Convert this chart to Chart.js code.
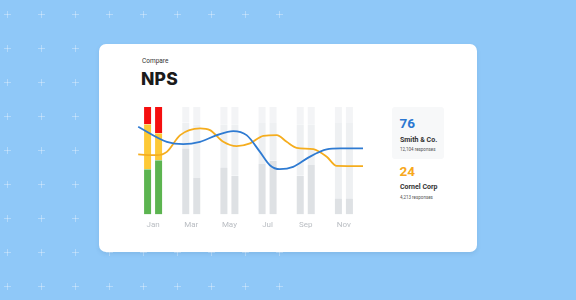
<!DOCTYPE html>
<html>
<head>
<meta charset="utf-8">
<script src="https://cdn.jsdelivr.net/npm/chart.js@4/dist/chart.umd.min.js"></script>
<style>
  html,body{margin:0;padding:0;}
  body{width:576px;height:300px;background:#8fc8f8;position:relative;overflow:hidden;font-family:Roboto,"Noto Sans",sans-serif;}
  .plus{position:absolute;width:7px;height:7px;}
  .plus:before,.plus:after{content:"";position:absolute;background:rgba(255,255,255,0.32);}
  .plus:before{left:0;top:3px;width:7px;height:1px;}
  .plus:after{left:3px;top:0;width:1px;height:7px;}
  #card{position:absolute;left:99px;top:44px;width:378px;height:208px;background:#fff;border-radius:7px;box-shadow:0 2px 4px rgba(40,80,120,0.12);}
  .t{position:absolute;white-space:nowrap;}
  #panel{position:absolute;left:392px;top:107px;width:52px;height:52px;background:#f7f8f9;border-radius:3px;}
  #wrap{position:absolute;left:120px;top:100px;width:260px;height:136px;}
</style>
</head>
<body>
<div id="plusLayer"></div>
<div id="card"></div>
<div class="t" style="left:142px;top:58px;font-size:6.5px;line-height:7px;color:#333;">Compare</div>
<div class="t" style="left:141px;top:68.5px;font-size:17.5px;line-height:20px;font-weight:800;color:#1b1b1b;font-family:Inter,sans-serif;letter-spacing:0.2px;">NPS</div>
<div id="panel"></div>
<div class="t" id="v1" style="left:399.5px;top:114.5px;font-size:13.5px;line-height:16px;font-weight:700;color:#2b77d1;"></div>
<div class="t" id="n1" style="left:400px;top:135.5px;font-size:7px;line-height:8px;font-weight:700;color:#333;"></div>
<div class="t" id="r1" style="left:400px;top:147px;font-size:4.5px;line-height:5px;color:#555;"></div>
<div class="t" id="v2" style="left:399.5px;top:162.5px;font-size:13.5px;line-height:16px;font-weight:700;color:#f7a81c;"></div>
<div class="t" id="n2" style="left:400px;top:183px;font-size:7px;line-height:8px;font-weight:700;color:#333;"></div>
<div class="t" id="r2" style="left:400px;top:194.5px;font-size:4.5px;line-height:5px;color:#555;"></div>
<div id="wrap"><canvas id="c"></canvas></div>
<script>
// ---- data ----
const months = ['Jan','Mar','May','Jul','Sep','Nov'];
// first bar of each pair (percent segments)
const aGreen  = [42, 61.5, 44, 47, 36, 15];
const aYellow = [42, 24, 40, 38, 48, 70];
const aRed    = [16, 14.5, 16, 15, 16, 15];
// second bar of each pair
const bGreen  = [50.5, 34, 36, 50, 46, 15];
const bYellow = [25, 50, 48, 35, 38, 70];
const bRed    = [24.5, 16, 16, 15, 16, 15];
// lines (x in month-index units)
const blueX = [-0.39, 0.36, 0.79, 1.23, 1.67, 2.10, 2.45, 2.80, 3.06, 3.32, 3.67, 4.10, 4.55, 4.90, 5.5];
const blueY = [81.6, 67.6, 65.4, 67.6, 73.8, 77.6, 73.8, 58.2, 45.8, 42.1, 44.2, 53.6, 60.5, 61.4, 61.4];
const orangeX = [-0.39, 0.10, 0.36, 0.71, 1.23, 1.49, 1.84, 2.19, 2.54, 2.89, 3.24, 3.50, 3.76, 4.20, 4.55, 4.81, 5.5];
const orangeY = [55.8, 55.1, 58.2, 73.8, 80.1, 78.5, 67.6, 63.6, 66.1, 73.2, 73.8, 67.6, 62.0, 60.7, 53.6, 45.1, 44.9];
const companies = ['Smith & Co.', 'Cornel Corp'];
const scores = [76, 24];
const responses = ['12,104 responses', '4,213 responses'];

// ---- text ----
document.getElementById('v1').textContent = scores[0];
document.getElementById('n1').textContent = companies[0];
document.getElementById('r1').textContent = responses[0];
document.getElementById('v2').textContent = scores[1];
document.getElementById('n2').textContent = companies[1];
document.getElementById('r2').textContent = responses[1];

// ---- background pattern ----
const pl = document.getElementById('plusLayer');
for (let r = 0; r < 9; r++) for (let c = 0; c < 9; c++) {
  const d = document.createElement('div');
  d.className = 'plus';
  d.style.left = (7 + c * 34 - 3) + 'px';
  d.style.top = (14 + r * 34 - 3) + 'px';
  pl.appendChild(d);
}

// ---- chart ----
const colorFor = (active, faded) => months.map((m, i) => i === 0 ? active : faded);
const GREEN = '#5cb450', YELLOW = '#fdc936', RED = '#f50f0f';
const G1 = '#dee1e4', G2 = '#eef0f2', G3 = '#f3f4f6';
const bar = (data, stack, color) => ({
  type: 'bar', data, stack, backgroundColor: color, order: 2,
  borderColor: '#ffffff', borderWidth: { left: 2, right: 2, top: 0, bottom: 0 },
  borderSkipped: false, inflateAmount: 0,
  xAxisID: 'x', yAxisID: 'y', barThickness: 11
});
new Chart(document.getElementById('c'), {
  data: {
    labels: months,
    datasets: [
      {type:'line', data: blueX.map((x,i)=>({x, y: blueY[i]})), borderColor:'#2f7bd2', borderWidth:1.8,
       pointRadius:0, cubicInterpolationMode:'monotone', fill:false, xAxisID:'xl', yAxisID:'yl', order:0},
      {type:'line', data: orangeX.map((x,i)=>({x, y: orangeY[i]})), borderColor:'#f5ad1e', borderWidth:1.8,
       pointRadius:0, cubicInterpolationMode:'monotone', fill:false, xAxisID:'xl', yAxisID:'yl', order:1},
      bar(aGreen, 'a', colorFor(GREEN, G1)),
      bar(aYellow, 'a', colorFor(YELLOW, G2)),
      bar(aRed, 'a', colorFor(RED, G3)),
      bar(bGreen, 'b', colorFor(GREEN, G1)),
      bar(bYellow, 'b', colorFor(YELLOW, G2)),
      bar(bRed, 'b', colorFor(RED, G3)),
    ]
  },
  options: {
    responsive: true, maintainAspectRatio: false, animation: false,
    layout: { padding: { left: 14, right: 17, top: 7, bottom: 0 } },
    plugins: { legend: { display: false }, tooltip: { enabled: false } },
    scales: {
      x: { type:'category', stacked: true, offset: true,
           grid: { display:false, drawTicks:false }, border: { display:false },
           ticks: { padding: 6, maxRotation: 0, autoSkip: false, color:'#b9bdc2',
                    font: { size: 8, family: 'Roboto' } } },
      xl: { type:'linear', display:false, min:-0.5, max:5.5 },
      y: { stacked: true, display:false, min:0, max:100 },
      yl: { display:false, min:0, max:100 }
    }
  }
});
</script>
</body>
</html>
